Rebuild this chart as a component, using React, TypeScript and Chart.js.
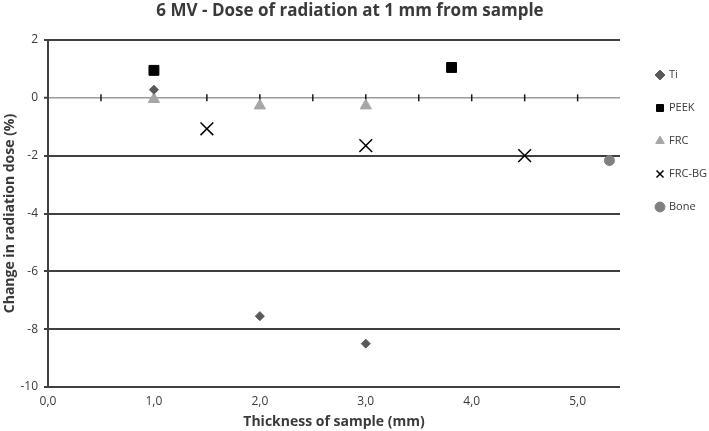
import React, { useEffect, useRef } from "react";
import { Chart, registerables } from "chart.js";

Chart.register(...registerables);

const tiX = [1.0, 2.0, 3.0];
const tiY = [0.28, -7.55, -8.5];
const peekX = [1.0, 3.81];
const peekY = [0.95, 1.05];
const frcX = [1.0, 2.0, 3.0];
const frcY = [-0.05, -0.27, -0.27];
const frcBgX = [1.5, 3.0, 4.5];
const frcBgY = [-1.07, -1.65, -2.0];
const boneX = [5.3];
const boneY = [-2.17];

const xTickValues = [0, 1, 2, 3, 4, 5];
const zeroLineTicks = [0.5, 1.0, 1.5, 2.0, 2.5, 3.0, 3.5, 4.0, 4.5, 5.0];

const FONT = "'Open Sans', 'Liberation Sans', Arial, sans-serif";
const TEXT = "#3a3a3a";
const DARK = "#404040";

const pts = (xs: number[], ys: number[]) => xs.map((x, i) => ({ x, y: ys[i] }));

const zeroTicksPlugin = {
  id: "zeroTicks",
  beforeDatasetsDraw(chart: any) {
    const { ctx, scales } = chart;
    const y0 = scales.y.getPixelForValue(0);
    ctx.save();
    ctx.strokeStyle = "#1a1a1a";
    ctx.lineWidth = 1.5;
    zeroLineTicks.forEach((v) => {
      const x = scales.x.getPixelForValue(v);
      ctx.beginPath();
      ctx.moveTo(x, y0 - 3.5);
      ctx.lineTo(x, y0 + 3.5);
      ctx.stroke();
    });
    ctx.restore();
  },
};

const legendPlacePlugin = {
  id: "legendPlace",
  afterLayout(chart: any) {
    const lg = chart.legend;
    if (!lg) return;
    const dx = 634.5 - lg.left;
    const dy = 47.5 - lg.top;
    lg.left += dx;
    lg.right += dx;
    lg.top += dy;
    lg.bottom += dy;
  },
};

export default function App() {
  const ref = useRef<HTMLCanvasElement>(null);
  useEffect(() => {
    if (!ref.current) return;
    const chart = new Chart(ref.current, {
      type: "scatter",
      data: {
        datasets: [
          { label: "Ti", data: pts(tiX, tiY), pointStyle: "rectRot", pointRadius: 4.5, borderWidth: 1, backgroundColor: "#595959", borderColor: "#595959" },
          { label: "PEEK", data: pts(peekX, peekY), pointStyle: "rect", pointRadius: 7, borderWidth: 1, backgroundColor: "#000000", borderColor: "#000000" },
          { label: "FRC", data: pts(frcX, frcY), pointStyle: "triangle", pointRadius: 6.5, borderWidth: 1, backgroundColor: "#a6a6a6", borderColor: "#a6a6a6" },
          { label: "FRC-BG", data: pts(frcBgX, frcBgY), pointStyle: "crossRot", pointRadius: 9, borderWidth: 1.5, backgroundColor: "#000000", borderColor: "#000000" },
          { label: "Bone", data: pts(boneX, boneY), pointStyle: "circle", pointRadius: 5, borderWidth: 1, backgroundColor: "#808080", borderColor: "#808080" },
        ],
      },
      options: {
        responsive: false,
        animation: false,
        layout: { padding: { left: 0, right: 9, top: 0, bottom: 0 } },
        plugins: {
          title: {
            display: true,
            text: "6 MV - Dose of radiation at 1 mm from sample",
            color: TEXT,
            font: { family: FONT, size: 17, weight: "bold" },
            padding: { top: 0.5, bottom: 19.1 },
          },
          legend: {
            position: "right",
            align: "start",
            maxWidth: 80,
            labels: {
              usePointStyle: true,
              boxWidth: 7,
              boxHeight: 7,
              padding: 22,
              color: TEXT,
              font: { family: FONT, size: 11 },
            },
          },
          tooltip: { enabled: false },
        },
        scales: {
          x: {
            type: "linear",
            min: 0,
            max: 5.4,
            afterBuildTicks: (s: any) => {
              s.ticks = xTickValues.map((v) => ({ value: v }));
            },
            afterFit: (s: any) => {
              s.height = 44;
            },
            grid: { display: false, drawTicks: false },
            border: { display: false },
            ticks: {
              color: TEXT,
              padding: 7,
              maxRotation: 0,
              font: { family: FONT, size: 12 },
              callback: (v: any) => Number(v).toFixed(1).replace(".", ","),
            },
            title: {
              display: true,
              text: "Thickness of sample (mm)",
              color: TEXT,
              font: { family: FONT, size: 14, weight: "bold" },
              padding: { top: 0, bottom: 1 },
            },
          },
          y: {
            min: -10,
            max: 2,
            afterFit: (s: any) => {
              s.width = 48;
            },
            ticks: {
              stepSize: 2,
              color: TEXT,
              padding: 6,
              font: { family: FONT, size: 12 },
            },
            grid: {
              drawTicks: true,
              tickLength: 4,
              tickColor: DARK,
              tickWidth: 2,
              color: (c: any) => (c.tick && c.tick.value === 0 ? "#9a9a9a" : DARK),
              lineWidth: (c: any) => (c.tick && c.tick.value === 0 ? 1.5 : 2),
            },
            border: { display: true, color: DARK, width: 2 },
            title: {
              display: true,
              text: "Change in radiation dose (%)",
              color: TEXT,
              font: { family: FONT, size: 14, weight: "bold" },
              padding: { top: 2, bottom: 0 },
            },
          },
        },
      },
      plugins: [zeroTicksPlugin, legendPlacePlugin],
    } as any);
    return () => chart.destroy();
  }, []);
  return (
    <div style={{ position: "absolute", left: 0, top: 0, width: 709, height: 431, background: "#fff" }}>
      <canvas ref={ref} width={709} height={431} />
    </div>
  );
}
